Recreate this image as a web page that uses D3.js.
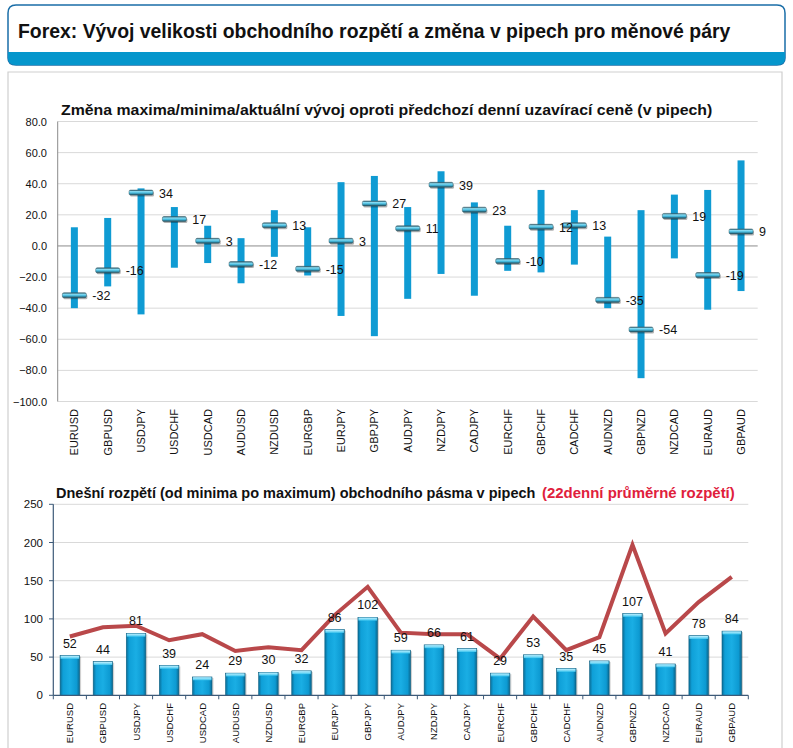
<!DOCTYPE html>
<html><head><meta charset="utf-8">
<script src="https://cdn.jsdelivr.net/npm/d3@7"></script>
<style>body{margin:0;background:#fff;}svg{display:block;font-family:"Liberation Sans",Arial,sans-serif;}</style>
</head><body>
<svg id="c" width="793" height="748"></svg>
<script>
const pairs = ["EURUSD","GBPUSD","USDJPY","USDCHF","USDCAD","AUDUSD","NZDUSD","EURGBP","EURJPY","GBPJPY","AUDJPY","NZDJPY","CADJPY","EURCHF","GBPCHF","CADCHF","AUDNZD","GBPNZD","NZDCAD","EURAUD","GBPAUD"];
const changeHigh = [12,18,37,25,13,5,23,12,41,45,25,48,28,13,36,23,6,23,33,36,55];
const changeLow = [-40,-26,-44,-14,-11,-24,-7,-19,-45,-58,-34,-18,-32,-16,-17,-12,-40,-85,-8,-41,-29];
const changeNow = [-32,-16,34,17,3,-12,13,-15,3,27,11,39,23,-10,12,13,-35,-54,19,-19,9];
const rangeToday = [52,44,81,39,24,29,30,32,86,102,59,66,61,29,53,35,45,107,41,78,84];
const range22d = [77,89,91,72,80,58,63,59,105,142,82,80,80,48,103,59,76,197,81,122,155];
const topTicks = [80,60,40,20,0,-20,-40,-60,-80,-100];
const bottomTicks = [0,50,100,150,200,250];

const svg = d3.select("#c");
const defs = svg.append("defs");
const mg = defs.append("linearGradient").attr("id","mk").attr("x1",0).attr("y1",0).attr("x2",0).attr("y2",1);
[[0,"#2a5566"],[0.3,"#86dbf2"],[0.6,"#45b9dc"],[1,"#1d4656"]].forEach(s=>mg.append("stop").attr("offset",s[0]).attr("stop-color",s[1]));
const bg = defs.append("linearGradient").attr("id","bar").attr("x1",0).attr("y1",0).attr("x2",1).attr("y2",0);
[[0,"#0a6e98"],[0.15,"#0fa0d8"],[0.5,"#1aaee4"],[0.85,"#0d9ad2"],[1,"#0a6890"]].forEach(s=>bg.append("stop").attr("offset",s[0]).attr("stop-color",s[1]));
const cg = defs.append("linearGradient").attr("id","cap").attr("x1",0).attr("y1",0).attr("x2",0).attr("y2",1);
[[0,"#bff0ff"],[1,"#3cc4ee"]].forEach(s=>cg.append("stop").attr("offset",s[0]).attr("stop-color",s[1]));

// fitted title helper: horizontal scale to a target width
function fitText(x, y, width, size, color, str){
  const t = svg.append("text").attr("x",0).attr("y",0).attr("font-size",size).attr("font-weight","bold").attr("fill",color).text(str);
  const w = t.node().getComputedTextLength();
  t.attr("transform",`translate(${x},${y}) scale(${width/w},1)`);
  return t;
}

// header box
svg.append("path")
  .attr("d","M8,58 L8,13 Q8,5 16,5 L777,5 Q785,5 785,13 L785,58 Q785,65 777,65 L16,65 Q8,65 8,58 Z")
  .attr("fill","#fff").attr("stroke","#1a6ea8").attr("stroke-width",1.5);
svg.append("path")
  .attr("d","M8,52 L785,52 L785,58 Q785,65 777,65 L16,65 Q8,65 8,58 Z")
  .attr("fill","#0596cc");
fitText(18,38,713,20,"#111","Forex: Vývoj velikosti obchodního rozpětí a změna v pipech pro měnové páry");

// panel
svg.append("path").attr("d","M8,760 L8,72 L782,72 L782,760").attr("fill","none").attr("stroke","#cfcfcf").attr("stroke-width",1.2);

// ===== Top chart =====
const x1 = d3.scaleBand().domain(pairs).range([57.7,757.7]);
const y1 = d3.scaleLinear().domain([-100,80]).range([401.5,121.5]);
const g1 = svg.append("g");
g1.selectAll("line.grid").data(topTicks).join("line")
  .attr("x1",57.7).attr("x2",757.7).attr("y1",d=>y1(d)).attr("y2",d=>y1(d))
  .attr("stroke",d=>d===0?"#8c8c8c":"#d9d9d9").attr("stroke-width",1);
g1.append("line").attr("x1",57.7).attr("x2",57.7).attr("y1",y1(80)).attr("y2",y1(-100)).attr("stroke","#8c8c8c");
g1.selectAll("text.tick").data(topTicks).join("text")
  .attr("x",47).attr("y",d=>y1(d)+4).attr("text-anchor","end").attr("font-size",11).attr("fill","#111")
  .text(d=>d3.format(".1f")(d));
fitText(61,115,652,15.5,"#111","Změna maxima/minima/aktuální vývoj oproti předchozí denní uzavírací ceně (v pipech)");
g1.selectAll("rect.rng").data(pairs).join("rect")
  .attr("x",(d)=>x1(d)+x1.bandwidth()/2-3.5).attr("width",7)
  .attr("y",(d,i)=>y1(changeHigh[i])).attr("height",(d,i)=>y1(changeLow[i])-y1(changeHigh[i]))
  .attr("fill","#0f9bd3");
g1.selectAll("rect.sh").data(pairs).join("rect")
  .attr("x",d=>x1(d)+x1.bandwidth()/2-11).attr("y",(d,i)=>y1(changeNow[i])-1.5)
  .attr("width",24).attr("height",5).attr("rx",1.5).attr("fill","#000").attr("opacity",0.3);
g1.selectAll("rect.mk").data(pairs).join("rect")
  .attr("x",d=>x1(d)+x1.bandwidth()/2-12).attr("y",(d,i)=>y1(changeNow[i])-3)
  .attr("width",24).attr("height",5).attr("rx",1.5).attr("fill","url(#mk)").attr("stroke","#355e6b").attr("stroke-width",0.5);
g1.selectAll("text.val").data(pairs).join("text")
  .attr("x",d=>x1(d)+x1.bandwidth()/2+18).attr("y",(d,i)=>y1(changeNow[i])+4.5)
  .attr("font-size",12.5).attr("fill","#111").text((d,i)=>changeNow[i]);
g1.selectAll("text.cat").data(pairs).join("text")
  .attr("transform",d=>`translate(${x1(d)+x1.bandwidth()/2+4},409) rotate(-90)`)
  .attr("text-anchor","end").attr("font-size",11).attr("fill","#111").text(d=>d);

// ===== Bottom chart =====
const x2 = d3.scaleBand().domain(pairs).range([53.3,748.3]);
const y2 = d3.scaleLinear().domain([0,250]).range([695.3,504.3]);
const g2 = svg.append("g");
g2.selectAll("line.grid").data(bottomTicks.filter(d=>d>0)).join("line")
  .attr("x1",53.3).attr("x2",748.3).attr("y1",d=>y2(d)).attr("y2",d=>y2(d)).attr("stroke","#d9d9d9");
fitText(56,498,480,15.5,"#111","Dnešní rozpětí (od minima po maximum) obchodního pásma v pipech");
fitText(542,498,193,15.5,"#e0203c","(22denní průměrné rozpětí)");
const bw = 19.5;
g2.selectAll("rect.bsh").data(pairs).join("rect")
  .attr("x",d=>x2(d)+x2.bandwidth()/2-bw/2+1.5).attr("width",bw)
  .attr("y",(d,i)=>y2(rangeToday[i])+1).attr("height",(d,i)=>y2(0)-y2(rangeToday[i])-1)
  .attr("fill","#000").attr("opacity",0.18);
g2.selectAll("rect.b").data(pairs).join("rect")
  .attr("x",d=>x2(d)+x2.bandwidth()/2-bw/2).attr("width",bw)
  .attr("y",(d,i)=>y2(rangeToday[i])).attr("height",(d,i)=>y2(0)-y2(rangeToday[i]))
  .attr("fill","url(#bar)").attr("stroke","#0b5f82").attr("stroke-width",0.6);
g2.selectAll("rect.cap").data(pairs).join("rect")
  .attr("x",d=>x2(d)+x2.bandwidth()/2-bw/2+0.5).attr("width",bw-1)
  .attr("y",(d,i)=>y2(rangeToday[i])+0.3).attr("height",3)
  .attr("fill","url(#cap)");
g2.append("line").attr("x1",53.3).attr("x2",53.3).attr("y1",y2(250)).attr("y2",y2(0)).attr("stroke","#3d5a78").attr("stroke-width",1.2);
g2.append("line").attr("x1",53.3).attr("x2",748.3).attr("y1",y2(0)).attr("y2",y2(0)).attr("stroke","#3d5a78").attr("stroke-width",1.2);
g2.selectAll("line.yt").data(bottomTicks).join("line")
  .attr("x1",49).attr("x2",53.3).attr("y1",d=>y2(d)).attr("y2",d=>y2(d)).attr("stroke","#3d5a78");
g2.selectAll("line.xt").data(pairs.concat(["_end"])).join("line")
  .attr("x1",(d,i)=>53.3+i*x2.step()).attr("x2",(d,i)=>53.3+i*x2.step())
  .attr("y1",y2(0)).attr("y2",y2(0)+4).attr("stroke","#3d5a78");
g2.selectAll("text.tick").data(bottomTicks).join("text")
  .attr("x",43).attr("y",d=>y2(d)+4).attr("text-anchor","end").attr("font-size",11.5).attr("fill","#111").text(d=>d);
const ln = d3.line().x(d=>x2(d.p)+x2.bandwidth()/2).y(d=>y2(d.v));
g2.append("path").datum(pairs.map((p,i)=>({p,v:range22d[i]})))
  .attr("d",ln).attr("fill","none").attr("stroke","#b9484a").attr("stroke-width",4).attr("stroke-linejoin","miter");
g2.selectAll("text.val").data(pairs).join("text")
  .attr("x",d=>x2(d)+x2.bandwidth()/2).attr("y",(d,i)=>y2(rangeToday[i])-8)
  .attr("text-anchor","middle").attr("font-size",12.5).attr("fill","#111").text((d,i)=>rangeToday[i]);
g2.selectAll("text.cat").data(pairs).join("text")
  .attr("transform",d=>`translate(${x2(d)+x2.bandwidth()/2+3.5},703) rotate(-90)`)
  .attr("text-anchor","end").attr("font-size",9.5).attr("fill","#111").text(d=>d);
</script>
</body></html>
